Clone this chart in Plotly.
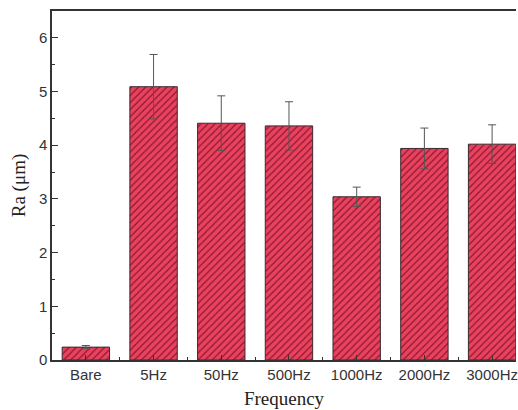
import plotly.graph_objects as go

# Surface roughness Ra by pulse frequency
categories = ["Bare", "5Hz", "50Hz", "500Hz", "1000Hz", "2000Hz", "3000Hz"]
ra_mean = [0.24, 5.09, 4.41, 4.36, 3.04, 3.94, 4.02]
ra_err = [0.03, 0.60, 0.51, 0.45, 0.18, 0.38, 0.36]
y_ticks = [0, 1, 2, 3, 4, 5, 6]

positions = list(range(len(categories)))

fig = go.Figure()
fig.add_trace(go.Bar(
    x=positions,
    y=ra_mean,
    width=0.7,
    marker=dict(
        color="#E8405C",
        line=dict(color="#3a2a2e", width=1),
        pattern=dict(shape="/", fgcolor="#8a1a30", bgcolor="#EA425E",
                     size=5, solidity=0.25, fillmode="replace"),
    ),
    error_y=dict(type="data", array=ra_err, visible=True,
                 color="#555555", thickness=1, width=4),
    showlegend=False,
))

axis_font = dict(family="Liberation Sans, Arial, sans-serif", size=15, color="#333333")
title_font = dict(family="Liberation Serif, Times New Roman, serif", size=19, color="#222222")

fig.update_layout(
    width=518, height=410,
    margin=dict(l=52, r=0, t=11, b=50),
    paper_bgcolor="white", plot_bgcolor="white",
    bargap=0.3,
)
fig.update_xaxes(
    range=[-0.5, 6.353],
    tickmode="array", tickvals=positions, ticktext=categories,
    ticklabeloverflow="allow",
    ticks="inside", ticklen=5, tickwidth=1, tickcolor="#333333",
    minor=dict(ticks="inside", ticklen=3, tickwidth=1, tickcolor="#333333",
               tickmode="linear", tick0=-0.5, dtick=1),
    showline=True, linecolor="#333333", linewidth=1.5, mirror=True,
    showgrid=False, zeroline=False,
    tickfont=axis_font,
    title=dict(text="Frequency", font=title_font, standoff=10),
)
fig.update_yaxes(
    range=[0, 6.5],
    tickmode="array", tickvals=y_ticks,
    ticks="inside", ticklen=6, tickwidth=1, tickcolor="#333333",
    minor=dict(ticks="inside", ticklen=3, tickwidth=1, tickcolor="#333333",
               tickmode="linear", tick0=0.5, dtick=1),
    showline=True, linecolor="#333333", linewidth=1.5, mirror=False,
    showgrid=False, zeroline=False,
    tickfont=axis_font,
    title=dict(text="Ra (μm)", font=title_font, standoff=8),
)

fig.write_html("out.html")
